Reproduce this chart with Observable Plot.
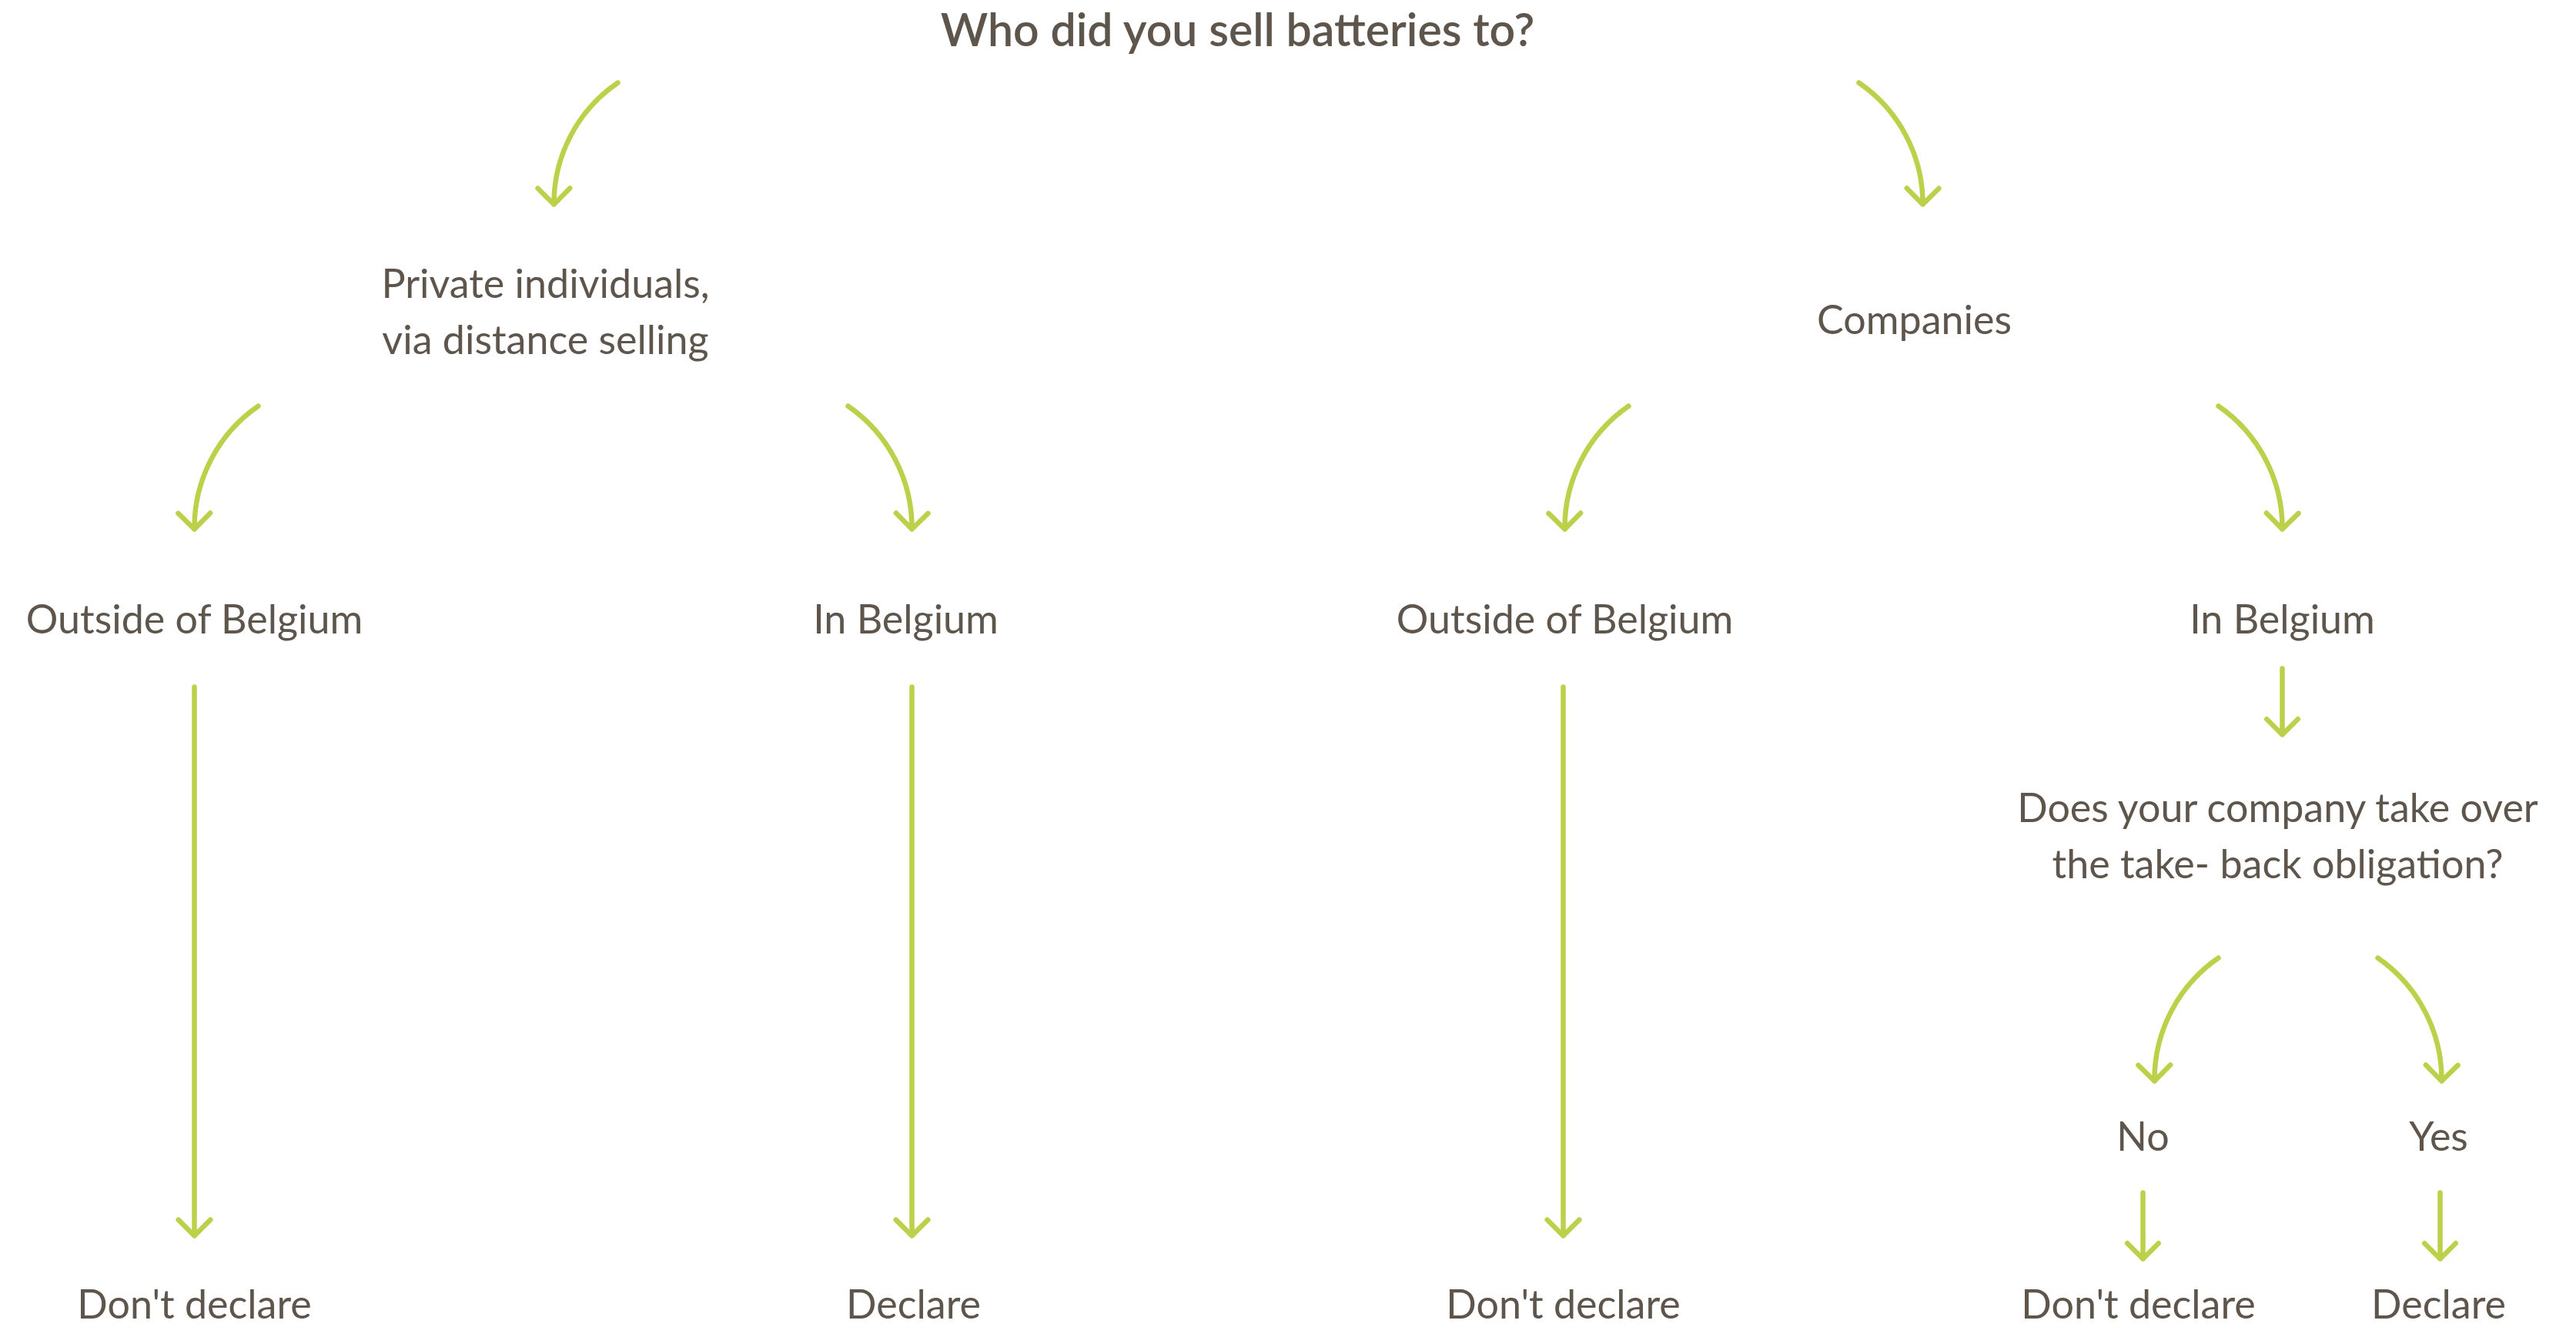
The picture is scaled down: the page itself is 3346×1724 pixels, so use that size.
<!DOCTYPE html>
<html><head><meta charset="utf-8">
<script src="https://cdn.jsdelivr.net/npm/d3@7"></script>
<script src="https://cdn.jsdelivr.net/npm/@observablehq/plot@0.6"></script>
<style>html,body{margin:0;padding:0;background:#fff}svg{display:block}</style>
</head><body><div id="chart"></div>
<script>
// Layout units equal reference pixels (3346 x 1724)
const W = 3346, H = 1724;

const titleText = ["Who did you sell batteries to?"];
const titleX = [1607];
const titleY = [59];

const nodeLabels = [
  "Private individuals,\nvia distance selling", "Companies",
  "Outside of Belgium", "In Belgium", "Outside of Belgium", "In Belgium",
  "Does your company take over\nthe take- back obligation?",
  "No", "Yes",
  "Don't declare", "Declare", "Don't declare", "Don't declare", "Declare"
];
const nodeX = [708, 2486, 252, 1176, 2032, 2964, 2958, 2783, 3167, 252, 1186, 2030, 2777, 3167];
const nodeY = [459, 433, 822, 822, 822, 822, 1140, 1494, 1494, 1712, 1712, 1712, 1712, 1712];

const arrowX1 = [802, 2414, 335, 1101, 2115, 2881, 2881, 3088, 252, 1184, 2030, 2964, 2783, 3169];
const arrowY1 = [107, 107, 527, 527, 527, 527, 1244, 1244, 892, 892, 892, 868, 1549, 1549];
const arrowX2 = [719, 2497, 252, 1184, 2032, 2964, 2798, 3171, 252, 1184, 2030, 2964, 2783, 3169];
const arrowY2 = [265, 265, 687, 687, 687, 687, 1404, 1404, 1605, 1605, 1605, 954, 1635, 1635];

const textColor = "#5e554c";
const green = "#bdd04a";
const font = "Lato, 'Open Sans', sans-serif";

const arrows = arrowX1.map((_, i) => i);
const nodes = nodeLabels.map((_, i) => i);

const chart = Plot.plot({
  width: W, height: H, margin: 0,
  x: {domain: [0, W], range: [0, W], axis: null},
  y: {domain: [0, H], range: [0, H], axis: null},
  style: {fontFamily: font, background: "#fff"},
  marks: [
    Plot.arrow(arrows, {
      x1: i => arrowX1[i], y1: i => arrowY1[i],
      x2: i => arrowX2[i], y2: i => arrowY2[i],
      bend: 28, sweep: (x1, y1, x2) => x2 - x1,
      headAngle: 90, headLength: 6.8,
      stroke: green, strokeWidth: 6.5,
      strokeLinecap: "round", strokeLinejoin: "round"
    }),
    Plot.text(nodes, {
      x: i => nodeX[i], y: i => nodeY[i], text: i => nodeLabels[i],
      lineAnchor: "bottom", lineHeight: 1.4,
      fontSize: 52, fill: textColor, fontFamily: font
    }),
    Plot.text([0], {
      x: i => titleX[i], y: i => titleY[i], text: i => titleText[i],
      lineAnchor: "bottom", fontSize: 59, fontWeight: 600,
      fill: textColor, fontFamily: font
    })
  ]
});
document.getElementById("chart").appendChild(chart);
</script>
</body></html>
